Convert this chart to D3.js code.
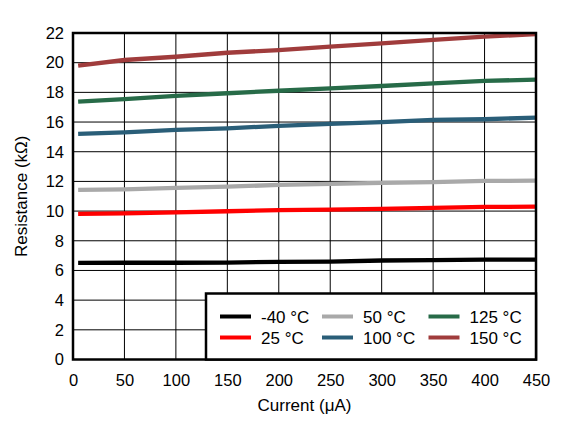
<!DOCTYPE html>
<html><head><meta charset="utf-8">
<script src="https://cdn.jsdelivr.net/npm/d3@7"></script>
<style>body{margin:0;background:#fff}svg{display:block}</style>
</head><body>
<svg id="c" width="570" height="425"></svg>
<script>
const currents = [5, 50, 100, 150, 200, 250, 300, 350, 400, 450];
const r_m40 = [6.51, 6.52, 6.52, 6.53, 6.58, 6.6, 6.67, 6.7, 6.73, 6.73];
const r_25  = [9.81, 9.85, 9.92, 9.99, 10.06, 10.1, 10.15, 10.22, 10.28, 10.3];
const r_50  = [11.43, 11.47, 11.56, 11.65, 11.76, 11.83, 11.9, 11.95, 12.03, 12.05];
const r_100 = [15.2, 15.31, 15.47, 15.58, 15.74, 15.87, 16.0, 16.14, 16.19, 16.3];
const r_125 = [17.37, 17.55, 17.76, 17.94, 18.11, 18.27, 18.43, 18.61, 18.77, 18.86];
const r_150 = [19.8, 20.18, 20.4, 20.67, 20.85, 21.08, 21.3, 21.53, 21.75, 21.93];
const seriesNames = ["-40 °C", "25 °C", "50 °C", "100 °C", "125 °C", "150 °C"];
const seriesColors = ["#000000", "#ff0000", "#a9a9a9", "#2a5e78", "#276b48", "#a03c3c"];
const xTicks = [0, 50, 100, 150, 200, 250, 300, 350, 400, 450];
const yTicks = [0, 2, 4, 6, 8, 10, 12, 14, 16, 18, 20, 22];

const seriesValues = [r_m40, r_25, r_50, r_100, r_125, r_150];
const svg = d3.select("#c");
const L = 73, R = 536, T = 33, B = 359.5;
const x = d3.scaleLinear().domain([0, 450]).range([L, R]);
const y = d3.scaleLinear().domain([0, 22]).range([B, T]);
const font = "'Liberation Sans', Arial, sans-serif";

// grid
svg.append("g").selectAll("line").data(xTicks).join("line")
  .attr("x1", d => x(d)).attr("x2", d => x(d)).attr("y1", T).attr("y2", B)
  .attr("stroke", "#000").attr("stroke-width", 1);
svg.append("g").selectAll("line").data(yTicks).join("line")
  .attr("x1", L).attr("x2", R).attr("y1", d => y(d)).attr("y2", d => y(d))
  .attr("stroke", "#000").attr("stroke-width", 1);

// series
const line = d3.line().x(d => x(d[0])).y(d => y(d[1]));
seriesValues.forEach((vals, i) => {
  svg.append("path").datum(currents.map((c, j) => [c, vals[j]]))
    .attr("d", line).attr("fill", "none")
    .attr("stroke", seriesColors[i]).attr("stroke-width", 4.3);
});

// frame
svg.append("rect").attr("x", L).attr("y", T).attr("width", R - L).attr("height", B - T)
  .attr("fill", "none").attr("stroke", "#000").attr("stroke-width", 2.5);

// axes (tick labels)
const xAxis = d3.axisBottom(x).tickValues(xTicks).tickSize(0).tickPadding(15);
const gx = svg.append("g").attr("transform", `translate(0,${B})`).call(xAxis);
gx.select(".domain").remove();
gx.selectAll("text").attr("font-family", font).attr("font-size", 16.5).attr("fill", "#000");
const yAxis = d3.axisLeft(y).tickValues(yTicks).tickSize(0).tickPadding(9);
const gy = svg.append("g").attr("transform", `translate(${L},0)`).call(yAxis);
gy.select(".domain").remove();
gy.selectAll("text").attr("font-family", font).attr("font-size", 16.5).attr("fill", "#000");

// titles
svg.append("text").attr("x", (L + R) / 2).attr("y", 411).attr("text-anchor", "middle")
  .attr("font-family", font).attr("font-size", 17).text("Current (μA)");
svg.append("text").attr("transform", `translate(27,${(T + B) / 2}) rotate(-90)`)
  .attr("text-anchor", "middle").attr("font-family", font).attr("font-size", 17)
  .text("Resistance (kΩ)");

// legend
const lx = 206, ly = 293.5;
svg.append("rect").attr("x", lx).attr("y", ly).attr("width", R - lx).attr("height", B - ly)
  .attr("fill", "#fff").attr("stroke", "#000").attr("stroke-width", 2.5);
const colX = [220, 322, 428.5];
const rowY = [316.5, 337.5];
seriesNames.forEach((n, i) => {
  const col = Math.floor(i / 2), row = i % 2;
  const g = svg.append("g");
  g.append("line").attr("x1", colX[col]).attr("x2", colX[col] + 31)
    .attr("y1", rowY[row]).attr("y2", rowY[row])
    .attr("stroke", seriesColors[i]).attr("stroke-width", 4);
  g.append("text").attr("x", colX[col] + 41).attr("y", rowY[row] + 6)
    .attr("font-family", font).attr("font-size", 17).text(n);
});
</script>
</body></html>
